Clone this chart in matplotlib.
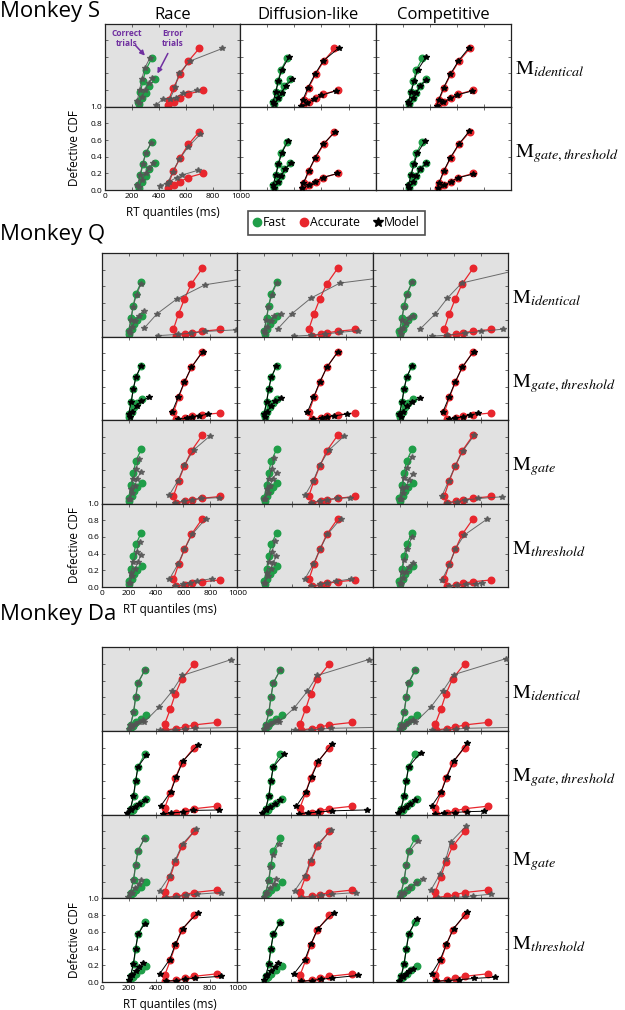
import matplotlib
matplotlib.use('Agg')
import matplotlib.pyplot as plt
from matplotlib.lines import Line2D

plt.rcParams['font.family'] = ['Open Sans', 'DejaVu Sans']
plt.rcParams['mathtext.fontset'] = 'stix'

W, H = 625, 1010

model_names = ['Race', 'Diffusion-like', 'Competitive']
x_ticks = [0, 200, 400, 600, 800, 1000]
y_ticks = [0.0, 0.2, 0.4, 0.6, 0.8, 1.0]

# observed data (fc = fast correct, fe = fast error, ac = accurate correct, ae = accurate error)
S_fc_x = [245, 262, 280, 300, 345]
S_fc_y = [0.06, 0.18, 0.31, 0.44, 0.58]
S_fe_x = [250, 275, 300, 325, 370]
S_fe_y = [0.03, 0.10, 0.17, 0.25, 0.33]
S_ac_x = [470, 506, 556, 617, 696]
S_ac_y = [0.08, 0.23, 0.39, 0.55, 0.70]
S_ae_x = [464, 509, 556, 610, 721]
S_ae_y = [0.02, 0.06, 0.10, 0.15, 0.20]

Q_fc_x = [197, 216, 231, 250, 290]
Q_fc_y = [0.07, 0.22, 0.37, 0.51, 0.65]
Q_fe_x = [203, 220, 240, 262, 295]
Q_fe_y = [0.03, 0.09, 0.15, 0.20, 0.25]
Q_ac_x = [528, 565, 609, 660, 742]
Q_ac_y = [0.09, 0.27, 0.45, 0.63, 0.82]
Q_ae_x = [548, 614, 663, 742, 872]
Q_ae_y = [0.01, 0.025, 0.045, 0.063, 0.084]

Da_fc_x = [212, 234, 249, 266, 315]
Da_fc_y = [0.07, 0.22, 0.40, 0.57, 0.72]
Da_fe_x = [205, 228, 252, 285, 327]
Da_fe_y = [0.02, 0.06, 0.10, 0.14, 0.19]
Da_ac_x = [463, 505, 542, 591, 680]
Da_ac_y = [0.08, 0.26, 0.44, 0.62, 0.80]
Da_ae_x = [468, 549, 611, 680, 850]
Da_ae_y = [0.01, 0.025, 0.045, 0.07, 0.10]

# model predictions, per panel: [fc, fe, ac, ae]
S_race_ident_x = [[238, 255, 272, 292, 330], [248, 272, 298, 322, 350], [480, 520, 545, 630, 867], [378, 425, 524, 573, 680]]
S_race_ident_y = [[0.07, 0.20, 0.33, 0.46, 0.58], [0.04, 0.12, 0.20, 0.28, 0.35], [0.09, 0.24, 0.40, 0.55, 0.70], [0.02, 0.09, 0.11, 0.16, 0.20]]
S_diff_ident_x = [[243, 262, 282, 305, 360], [252, 278, 305, 335, 385], [462, 500, 552, 612, 730], [450, 495, 545, 600, 705]]
S_diff_ident_y = [[0.06, 0.18, 0.31, 0.44, 0.60], [0.03, 0.10, 0.17, 0.25, 0.33], [0.08, 0.23, 0.39, 0.55, 0.71], [0.01, 0.05, 0.09, 0.14, 0.19]]
S_comp_ident_x = [[243, 262, 285, 310, 375], [250, 275, 302, 330, 375], [465, 503, 552, 612, 691], [455, 500, 550, 605, 715]]
S_comp_ident_y = [[0.06, 0.18, 0.31, 0.44, 0.60], [0.03, 0.10, 0.17, 0.25, 0.32], [0.08, 0.23, 0.39, 0.55, 0.71], [0.015, 0.055, 0.10, 0.145, 0.19]]
S_race_gt_x = [[240, 258, 278, 300, 340], [250, 275, 300, 325, 358], [460, 500, 550, 615, 704], [407, 470, 530, 568, 691]]
S_race_gt_y = [[0.06, 0.18, 0.31, 0.44, 0.56], [0.04, 0.12, 0.20, 0.27, 0.33], [0.07, 0.22, 0.37, 0.52, 0.67], [0.05, 0.10, 0.15, 0.18, 0.24]]
S_diff_gt_x = [[243, 262, 282, 305, 352], [252, 277, 302, 330, 375], [465, 505, 553, 612, 700], [458, 505, 553, 608, 718]]
S_diff_gt_y = [[0.06, 0.18, 0.31, 0.44, 0.59], [0.03, 0.10, 0.17, 0.25, 0.33], [0.08, 0.23, 0.39, 0.55, 0.70], [0.02, 0.06, 0.10, 0.15, 0.20]]
S_comp_gt_x = [[243, 262, 284, 308, 365], [250, 275, 302, 330, 372], [466, 504, 553, 614, 694], [460, 506, 555, 610, 718]]
S_comp_gt_y = [[0.06, 0.18, 0.31, 0.44, 0.59], [0.03, 0.10, 0.17, 0.25, 0.32], [0.08, 0.23, 0.39, 0.55, 0.71], [0.02, 0.06, 0.10, 0.15, 0.19]]

Q_race_ident_x = [[200, 213, 228, 255, 288], [205, 222, 245, 272, 307], [312, 405, 553, 762, 1160], [410, 560, 660, 760, 990]]
Q_race_ident_y = [[0.06, 0.20, 0.35, 0.50, 0.63], [0.04, 0.11, 0.18, 0.25, 0.31], [0.10, 0.27, 0.45, 0.62, 0.72], [0.01, 0.025, 0.04, 0.06, 0.08]]
Q_diff_ident_x = [[200, 213, 228, 255, 290], [205, 222, 245, 272, 320], [297, 400, 543, 757, 1194], [420, 543, 650, 760, 892]]
Q_diff_ident_y = [[0.06, 0.20, 0.35, 0.50, 0.64], [0.04, 0.11, 0.18, 0.24, 0.27], [0.09, 0.27, 0.46, 0.64, 0.73], [0.005, 0.015, 0.03, 0.05, 0.07]]
Q_comp_ident_x = [[200, 213, 230, 255, 289], [205, 222, 245, 270, 300], [350, 461, 551, 657, 1132], [440, 551, 680, 800, 958]]
Q_comp_ident_y = [[0.06, 0.20, 0.35, 0.50, 0.65], [0.03, 0.10, 0.16, 0.22, 0.25], [0.09, 0.27, 0.46, 0.64, 0.82], [0.005, 0.016, 0.04, 0.06, 0.088]]
Q_race_gt_x = [[197, 216, 231, 250, 288], [205, 225, 255, 290, 349], [516, 562, 607, 660, 744], [560, 627, 663, 713, 786]]
Q_race_gt_y = [[0.07, 0.22, 0.37, 0.51, 0.65], [0.03, 0.10, 0.17, 0.23, 0.27], [0.09, 0.27, 0.45, 0.63, 0.82], [0.01, 0.02, 0.04, 0.05, 0.07]]
Q_diff_gt_x = [[197, 216, 231, 250, 288], [205, 222, 248, 280, 322], [516, 562, 607, 660, 744], [560, 627, 663, 713, 806]]
Q_diff_gt_y = [[0.07, 0.22, 0.37, 0.51, 0.65], [0.03, 0.10, 0.17, 0.23, 0.26], [0.09, 0.27, 0.45, 0.63, 0.82], [0.01, 0.02, 0.04, 0.05, 0.07]]
Q_comp_gt_x = [[197, 216, 231, 250, 288], [205, 225, 255, 290, 346], [516, 562, 607, 660, 744], [560, 610, 663, 720, 779]]
Q_comp_gt_y = [[0.07, 0.22, 0.37, 0.51, 0.65], [0.03, 0.10, 0.17, 0.22, 0.26], [0.09, 0.27, 0.45, 0.63, 0.82], [0.01, 0.02, 0.04, 0.06, 0.08]]
Q_race_gate_x = [[200, 215, 232, 253, 270], [205, 225, 242, 258, 287], [496, 560, 609, 676, 798], [540, 609, 663, 732, 865]]
Q_race_gate_y = [[0.05, 0.17, 0.29, 0.41, 0.53], [0.05, 0.13, 0.21, 0.29, 0.38], [0.10, 0.27, 0.46, 0.64, 0.81], [0.01, 0.03, 0.045, 0.06, 0.07]]
Q_diff_gate_x = [[200, 215, 232, 253, 272], [205, 225, 242, 260, 290], [500, 560, 609, 676, 790], [545, 610, 665, 735, 830]]
Q_diff_gate_y = [[0.05, 0.17, 0.29, 0.41, 0.54], [0.05, 0.13, 0.21, 0.29, 0.37], [0.10, 0.27, 0.46, 0.64, 0.81], [0.01, 0.03, 0.045, 0.06, 0.07]]
Q_comp_gate_x = [[200, 215, 232, 255, 289], [205, 225, 245, 265, 296], [510, 560, 609, 665, 750], [548, 620, 680, 780, 951]]
Q_comp_gate_y = [[0.05, 0.18, 0.31, 0.43, 0.56], [0.05, 0.13, 0.20, 0.28, 0.35], [0.09, 0.27, 0.45, 0.63, 0.82], [0.01, 0.02, 0.04, 0.06, 0.08]]
Q_race_th_x = [[200, 215, 232, 255, 278], [205, 225, 245, 265, 287], [496, 560, 609, 665, 767], [540, 600, 650, 700, 811]]
Q_race_th_y = [[0.05, 0.17, 0.30, 0.42, 0.54], [0.05, 0.13, 0.21, 0.30, 0.38], [0.09, 0.27, 0.45, 0.63, 0.82], [0.01, 0.03, 0.05, 0.07, 0.10]]
Q_diff_th_x = [[200, 215, 232, 255, 280], [205, 225, 245, 265, 288], [496, 560, 609, 665, 764], [545, 610, 665, 730, 838]]
Q_diff_th_y = [[0.05, 0.17, 0.30, 0.42, 0.55], [0.05, 0.13, 0.21, 0.29, 0.37], [0.09, 0.27, 0.45, 0.63, 0.82], [0.01, 0.03, 0.05, 0.07, 0.096]]
Q_comp_th_x = [[200, 215, 232, 255, 289], [205, 225, 245, 265, 296], [510, 564, 608, 674, 841], [560, 620, 690, 760, 804]]
Q_comp_th_y = [[0.05, 0.18, 0.32, 0.46, 0.60], [0.04, 0.11, 0.18, 0.24, 0.29], [0.08, 0.26, 0.45, 0.62, 0.81], [0.01, 0.02, 0.03, 0.04, 0.05]]

Da_race_ident_x = [[210, 232, 248, 265, 315], [200, 222, 245, 270, 300], [310, 421, 517, 594, 955], [426, 540, 610, 685, 1150]]
Da_race_ident_y = [[0.07, 0.22, 0.40, 0.57, 0.72], [0.02, 0.05, 0.08, 0.11, 0.13], [0.10, 0.28, 0.47, 0.66, 0.85], [0.005, 0.01, 0.02, 0.03, 0.045]]
Da_diff_ident_x = [[210, 232, 248, 265, 315], [200, 222, 245, 270, 300], [305, 419, 517, 591, 970], [430, 545, 615, 690, 1150]]
Da_diff_ident_y = [[0.07, 0.22, 0.40, 0.57, 0.72], [0.02, 0.05, 0.08, 0.11, 0.13], [0.10, 0.27, 0.47, 0.66, 0.85], [0.005, 0.01, 0.02, 0.03, 0.045]]
Da_comp_ident_x = [[210, 232, 248, 265, 314], [200, 222, 245, 270, 300], [314, 429, 517, 600, 983], [440, 542, 615, 690, 1150]]
Da_comp_ident_y = [[0.07, 0.22, 0.40, 0.57, 0.73], [0.02, 0.05, 0.08, 0.11, 0.13], [0.10, 0.28, 0.47, 0.67, 0.86], [0.005, 0.01, 0.02, 0.03, 0.045]]
Da_race_gt_x = [[210, 232, 248, 266, 328], [185, 215, 245, 275, 315], [433, 507, 549, 598, 709], [450, 512, 598, 672, 862]]
Da_race_gt_y = [[0.07, 0.22, 0.40, 0.57, 0.71], [0.015, 0.05, 0.09, 0.13, 0.17], [0.10, 0.27, 0.45, 0.64, 0.83], [0.01, 0.02, 0.03, 0.05, 0.055]]
Da_diff_gt_x = [[210, 232, 248, 266, 345], [185, 215, 245, 275, 315], [436, 507, 549, 600, 700], [455, 520, 600, 700, 960]]
Da_diff_gt_y = [[0.07, 0.22, 0.40, 0.57, 0.72], [0.015, 0.05, 0.09, 0.13, 0.17], [0.10, 0.27, 0.45, 0.64, 0.84], [0.01, 0.02, 0.03, 0.045, 0.056]]
Da_comp_gt_x = [[210, 232, 248, 266, 355], [185, 215, 245, 275, 315], [436, 507, 549, 600, 701], [460, 530, 610, 700, 821]]
Da_comp_gt_y = [[0.07, 0.22, 0.40, 0.57, 0.74], [0.015, 0.05, 0.09, 0.13, 0.17], [0.10, 0.27, 0.45, 0.64, 0.85], [0.01, 0.015, 0.025, 0.035, 0.04]]
Da_race_gate_x = [[210, 232, 248, 266, 312], [195, 220, 245, 270, 291], [426, 500, 542, 595, 697], [470, 550, 620, 700, 877]]
Da_race_gate_y = [[0.07, 0.22, 0.40, 0.57, 0.71], [0.02, 0.07, 0.12, 0.17, 0.22], [0.09, 0.27, 0.46, 0.65, 0.83], [0.01, 0.02, 0.035, 0.05, 0.07]]
Da_diff_gate_x = [[210, 230, 245, 262, 305], [195, 220, 245, 268, 288], [424, 500, 542, 595, 695], [470, 550, 620, 700, 879]]
Da_diff_gate_y = [[0.07, 0.21, 0.37, 0.52, 0.65], [0.02, 0.07, 0.12, 0.17, 0.23], [0.09, 0.27, 0.46, 0.65, 0.82], [0.01, 0.02, 0.035, 0.05, 0.07]]
Da_comp_gate_x = [[210, 232, 250, 270, 338], [200, 235, 270, 320, 370], [431, 498, 542, 576, 689], [480, 600, 680, 743, 873]]
Da_comp_gate_y = [[0.07, 0.22, 0.40, 0.56, 0.69], [0.02, 0.07, 0.12, 0.18, 0.235], [0.10, 0.29, 0.47, 0.67, 0.86], [0.005, 0.01, 0.02, 0.03, 0.05]]
Da_race_th_x = [[210, 232, 248, 266, 315], [198, 222, 248, 275, 303], [426, 500, 542, 595, 709], [470, 550, 615, 690, 877]]
Da_race_th_y = [[0.07, 0.22, 0.40, 0.57, 0.70], [0.03, 0.08, 0.13, 0.18, 0.23], [0.10, 0.27, 0.45, 0.64, 0.83], [0.01, 0.02, 0.035, 0.05, 0.07]]
Da_diff_th_x = [[210, 232, 248, 266, 315], [198, 222, 248, 275, 303], [419, 500, 542, 595, 712], [470, 550, 620, 700, 891]]
Da_diff_th_y = [[0.07, 0.22, 0.40, 0.57, 0.71], [0.03, 0.08, 0.13, 0.18, 0.23], [0.10, 0.27, 0.45, 0.64, 0.83], [0.01, 0.02, 0.035, 0.05, 0.08]]
Da_comp_th_x = [[210, 232, 250, 268, 326], [198, 222, 245, 270, 300], [436, 500, 545, 598, 701], [470, 560, 640, 750, 902]]
Da_comp_th_y = [[0.07, 0.22, 0.40, 0.58, 0.76], [0.02, 0.06, 0.10, 0.13, 0.16], [0.10, 0.27, 0.45, 0.64, 0.84], [0.01, 0.02, 0.03, 0.045, 0.06]]

S_rows = [r'$\mathrm{M}_{identical}$', r'$\mathrm{M}_{gate,threshold}$']
Q_rows = [r'$\mathrm{M}_{identical}$', r'$\mathrm{M}_{gate,threshold}$', r'$\mathrm{M}_{gate}$', r'$\mathrm{M}_{threshold}$']
Da_rows = Q_rows

# 1 = model rejected (grey panel)
S_gray = [[1, 0, 0], [1, 0, 0]]
Q_gray = [[1, 1, 1], [0, 0, 0], [1, 1, 1], [1, 1, 1]]
Da_gray = [[1, 1, 1], [0, 0, 0], [1, 1, 1], [0, 0, 0]]

GREEN = '#1f9e48'
RED = '#e8262d'
BG = '#e1e1e1'
PURPLE = '#7030a0'

groups = [
    dict(title='Monkey S', title_y=1, left=105, top=23.5, w=135.3, h=83.3,
         obs=[(S_fc_x, S_fc_y), (S_fe_x, S_fe_y), (S_ac_x, S_ac_y), (S_ae_x, S_ae_y)],
         models=[[(S_race_ident_x, S_race_ident_y), (S_diff_ident_x, S_diff_ident_y), (S_comp_ident_x, S_comp_ident_y)],
                 [(S_race_gt_x, S_race_gt_y), (S_diff_gt_x, S_diff_gt_y), (S_comp_gt_x, S_comp_gt_y)]],
         gray=S_gray, rows=S_rows),
    dict(title='Monkey Q', title_y=224, left=102, top=253, w=135.4, h=83.5,
         obs=[(Q_fc_x, Q_fc_y), (Q_fe_x, Q_fe_y), (Q_ac_x, Q_ac_y), (Q_ae_x, Q_ae_y)],
         models=[[(Q_race_ident_x, Q_race_ident_y), (Q_diff_ident_x, Q_diff_ident_y), (Q_comp_ident_x, Q_comp_ident_y)],
                 [(Q_race_gt_x, Q_race_gt_y), (Q_diff_gt_x, Q_diff_gt_y), (Q_comp_gt_x, Q_comp_gt_y)],
                 [(Q_race_gate_x, Q_race_gate_y), (Q_diff_gate_x, Q_diff_gate_y), (Q_comp_gate_x, Q_comp_gate_y)],
                 [(Q_race_th_x, Q_race_th_y), (Q_diff_th_x, Q_diff_th_y), (Q_comp_th_x, Q_comp_th_y)]],
         gray=Q_gray, rows=Q_rows),
    dict(title='Monkey Da', title_y=604, left=102, top=647, w=135.3, h=83.8,
         obs=[(Da_fc_x, Da_fc_y), (Da_fe_x, Da_fe_y), (Da_ac_x, Da_ac_y), (Da_ae_x, Da_ae_y)],
         models=[[(Da_race_ident_x, Da_race_ident_y), (Da_diff_ident_x, Da_diff_ident_y), (Da_comp_ident_x, Da_comp_ident_y)],
                 [(Da_race_gt_x, Da_race_gt_y), (Da_diff_gt_x, Da_diff_gt_y), (Da_comp_gt_x, Da_comp_gt_y)],
                 [(Da_race_gate_x, Da_race_gate_y), (Da_diff_gate_x, Da_diff_gate_y), (Da_comp_gate_x, Da_comp_gate_y)],
                 [(Da_race_th_x, Da_race_th_y), (Da_diff_th_x, Da_diff_th_y), (Da_comp_th_x, Da_comp_th_y)]],
         gray=Da_gray, rows=Da_rows),
]

fig = plt.figure(figsize=(W / 100, H / 100), dpi=100)


def px(x, y):
    return x / W, 1 - y / H


first_race = None
for g in groups:
    nrows = len(g['rows'])
    fig.text(*px(0, g['title_y']), g['title'], fontsize=16, va='top', ha='left')
    for r in range(nrows):
        for c in range(3):
            left = g['left'] + c * g['w']
            top = g['top'] + r * g['h']
            ax = fig.add_axes([left / W, 1 - (top + g['h']) / H, g['w'] / W, g['h'] / H])
            gray = g['gray'][r][c]
            ax.set_facecolor(BG if gray else 'white')
            for k, (xs, ys) in enumerate(g['obs']):
                col = GREEN if k < 2 else RED
                ax.plot(xs, ys, '-o', color=col, lw=0.9, ms=4.7, mec=col, zorder=2)
            mx, my = g['models'][r][c]
            mcol = '#555555' if gray else 'black'
            for xs, ys in zip(mx, my):
                ax.plot(xs, ys, '-*', color=mcol, lw=0.7, ms=4.4, zorder=3,
                        alpha=0.85 if gray else 1.0)
            ax.set_xlim(0, 1000)
            ax.set_ylim(0, 1)
            ax.set_xticks(x_ticks)
            ax.set_yticks(y_ticks)
            ax.tick_params(direction='in', length=2.5, width=0.5, top=True, right=True,
                           labelsize=6, pad=2, colors='#333333', labelcolor='black')
            for s in ax.spines.values():
                s.set_linewidth(0.9)
                s.set_color('#222222')
            if r == nrows - 1 and c == 0:
                ax.yaxis.set_major_formatter('{x:.1f}')
            else:
                ax.tick_params(labelleft=False, labelbottom=False)
            if g['title'] == 'Monkey S' and r == 0:
                ax.set_title(model_names[c], fontsize=12, pad=3)
            if r == 0 and c == 0 and g['title'] == 'Monkey S':
                first_race = ax
        # row label
        ytxt = g['top'] + r * g['h'] + g['h'] / 2 + 9
        fig.text(*px(g['left'] + 3 * g['w'] + 4, ytxt), g['rows'][r],
                 fontsize=14.5, va='baseline', ha='left')
    # axis labels next to the bottom-left panel
    bottom_top = g['top'] + (nrows - 1) * g['h']
    fig.text(*px(74, bottom_top + g['h'] / 2), 'Defective CDF', rotation=90,
             fontsize=8.5, va='center', ha='center')
    fig.text(*px(g['left'] + g['w'] / 2, bottom_top + g['h'] + 22), 'RT quantiles (ms)',
             fontsize=8.5, va='center', ha='center')

# annotations in the first panel
first_race.text(163, 0.82, 'Correct\ntrials', color=PURPLE, fontsize=6, fontweight='bold',
                ha='center', va='center', linespacing=1.1)
first_race.text(500, 0.82, 'Error\ntrials', color=PURPLE, fontsize=6, fontweight='bold',
                ha='center', va='center', linespacing=1.1)
first_race.annotate('', xy=(309, 0.59), xytext=(212, 0.76),
                    arrowprops=dict(arrowstyle='-|>', color=PURPLE, lw=1.1, mutation_scale=7))
first_race.annotate('', xy=(378, 0.37), xytext=(474, 0.67),
                    arrowprops=dict(arrowstyle='-|>', color=PURPLE, lw=1.1, mutation_scale=7))

handles = [Line2D([], [], marker='o', color=GREEN, ls='none', ms=6),
           Line2D([], [], marker='o', color=RED, ls='none', ms=6),
           Line2D([], [], marker='*', color='black', ls='none', ms=7)]
leg = fig.legend(handles, ['Fast', 'Accurate', 'Model'], loc='center', ncol=3,
                 bbox_to_anchor=px(336.5, 222.5), fontsize=8.8, frameon=True,
                 fancybox=False, edgecolor='#222222', handlelength=0.6,
                 handletextpad=0.15, columnspacing=1.2, borderpad=0.45)
leg.get_frame().set_linewidth(1.2)

fig.savefig('out.png', dpi=100)
